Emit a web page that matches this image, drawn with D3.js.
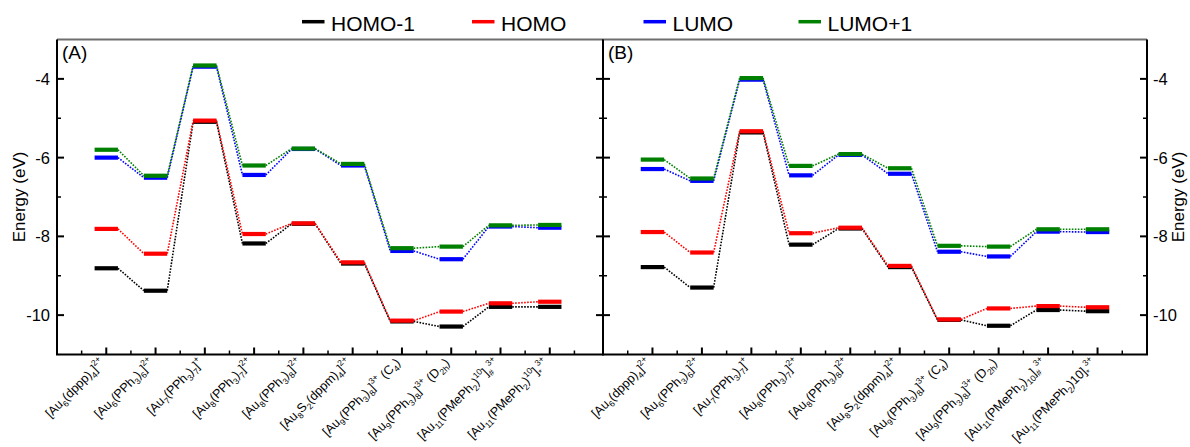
<!DOCTYPE html>
<html>
<head>
<meta charset="utf-8">
<script src="https://cdn.jsdelivr.net/npm/d3@7"></script>
<style>
  html, body { margin: 0; padding: 0; background: #fff; }
  svg { display: block; font-family: Arial, "Liberation Sans", sans-serif; }
  text { white-space: pre; }
</style>
</head>
<body>
<svg id="chart" width="1190" height="447"></svg>
<script>
// ---------- data ----------
const seriesNames = ["HOMO-1", "HOMO", "LUMO", "LUMO+1"];
const seriesColors = ["#000000", "#ff0000", "#0000ff", "#008000"];

const categoriesA = [
  "[Au_{6}(dppp)_{4}]^{2+}",
  "[Au_{6}(PPh_{3})_{6}]^{2+}",
  "[Au_{7}(PPh_{3})_{7}]^{+}",
  "[Au_{8}(PPh_{3})_{7}]^{2+}",
  "[Au_{8}(PPh_{3})_{8}]^{2+}",
  "[Au_{8}S_{2}(dppm)_{4}]^{2+}",
  "[Au_{9}(PPh_{3})_{8}]^{3+} (C_{4})",
  "[Au_{9}(PPh_{3})_{8}]^{3+} (D_{2h})",
  "[Au_{11}(PMePh_{2})^{10}]_{#}^{3+}",
  "[Au_{11}(PMePh_{2})^{10}]_{*}^{3+}"
];
const categoriesB = [
  "[Au_{6}(dppp)_{4}]^{2+}",
  "[Au_{6}(PPh_{3})_{6}]^{2+}",
  "[Au_{7}(PPh_{3})_{7}]^{+}",
  "[Au_{8}(PPh_{3})_{7}]^{2+}",
  "[Au_{8}(PPh_{3})_{8}]^{2+}",
  "[Au_{8}S_{2}(dppm)_{4}]^{2+}",
  "[Au_{9}(PPh_{3})_{8}]^{3+} (C_{4})",
  "[Au_{9}(PPh_{3})_{8}]^{3+} (D_{2h})",
  "[Au_{11}(PMePh_{2})_{10}]_{#}^{3+}",
  "[Au_{11}(PMePh_{2})10]_{*}^{3+}"
];

const homo1A = [-8.81, -9.38, -5.09, -8.18, -7.68, -8.69, -10.16, -10.29, -9.79, -9.79];
const homoA  = [-7.81, -8.44, -5.06, -7.94, -7.67, -8.66, -10.14, -9.91, -9.70, -9.66];
const lumoA  = [-6.00, -6.51, -3.69, -6.44, -5.78, -6.20, -8.37, -8.58, -7.75, -7.78];
const lumo1A = [-5.80, -6.46, -3.66, -6.20, -5.77, -6.16, -8.30, -8.26, -7.72, -7.71];

const homo1B = [-8.78, -9.30, -5.36, -8.21, -7.80, -8.78, -10.12, -10.27, -9.87, -9.90];
const homoB  = [-7.89, -8.41, -5.33, -7.92, -7.78, -8.75, -10.11, -9.83, -9.77, -9.80];
const lumoB  = [-6.29, -6.59, -4.02, -6.45, -5.93, -6.41, -8.39, -8.51, -7.88, -7.89];
const lumo1B = [-6.05, -6.53, -3.98, -6.21, -5.91, -6.27, -8.24, -8.26, -7.82, -7.82];

const yMajorTicks = [-4, -6, -8, -10];
const yMinorTicks = [-5, -7, -9];
const yTickLabels = ["-4", "-6", "-8", "-10"];
const panelLabels = ["(A)", "(B)"];
const yTitle = "Energy (eV)";

// ---------- layout ----------
const svg = d3.select("#chart");
const plotTop = 39.5, plotBottom = 354.5;
const y = d3.scaleLinear().domain([-11, -3]).range([plotBottom, plotTop]);
const panels = [
  { x: d3.scaleLinear().domain([0, 11.08]).range([57, 603]), cats: categoriesA,
    series: [homo1A, homoA, lumoA, lumo1A], label: panelLabels[0] },
  { x: d3.scaleLinear().domain([0, 11]).range([603, 1147]), cats: categoriesB,
    series: [homo1B, homoB, lumoB, lumo1B], label: panelLabels[1] }
];
const halfW = 0.237;

function richText(sel, str, fs) {
  const re = /([_^])\{([^}]*)\}|([^_^]+)/g;
  let m, cur = 0;
  while ((m = re.exec(str))) {
    let shift = 0, size = fs, txt;
    if (m[1]) { txt = m[2]; size = fs * 0.68; shift = m[1] === "_" ? fs * 0.28 : -fs * 0.45; }
    else txt = m[3];
    sel.append("tspan").attr("dy", shift - cur).attr("font-size", size).text(txt);
    cur = shift;
  }
}

panels.forEach((p, pi) => {
  const g = svg.append("g");
  const x = p.x;
  const [x0, x1] = x.range();
  const idx = d3.range(1, 11);

  // connectors (dotted) and levels
  p.series.forEach((vals, si) => {
    const col = seriesColors[si];
    const sg = g.append("g");
    const pts = idx.map((c, i) => ({ c, v: vals[i] }));
    sg.selectAll("line.conn").data(d3.pairs(pts)).join("line")
      .attr("class", "conn")
      .attr("x1", d => x(d[0].c + halfW)).attr("y1", d => y(d[0].v))
      .attr("x2", d => x(d[1].c - halfW)).attr("y2", d => y(d[1].v))
      .attr("stroke", col).attr("stroke-width", 1.6)
      .attr("stroke-dasharray", "1.6,1.4");
    sg.selectAll("line.lvl").data(pts).join("line")
      .attr("class", "lvl")
      .attr("x1", d => x(d.c - halfW)).attr("x2", d => x(d.c + halfW))
      .attr("y1", d => y(d.v)).attr("y2", d => y(d.v))
      .attr("stroke", col).attr("stroke-width", 4.2);
  });

  // bottom axis ticks (inward)
  g.selectAll("line.bmaj").data(idx).join("line")
    .attr("class", "bmaj")
    .attr("x1", d => x(d)).attr("x2", d => x(d))
    .attr("y1", plotBottom).attr("y2", plotBottom - 7)
    .attr("stroke", "#000").attr("stroke-width", 2);
  g.selectAll("line.bmin").data(d3.range(0.5, 11, 1)).join("line")
    .attr("class", "bmin")
    .attr("x1", d => x(d)).attr("x2", d => x(d))
    .attr("y1", plotBottom).attr("y2", plotBottom - 4)
    .attr("stroke", "#000").attr("stroke-width", 1.5);

  // vertical axes ticks (inward on both sides)
  [[x0, 1], [x1, -1]].forEach(([ax, dir]) => {
    const tg = g.append("g");
    tg.selectAll("line.ymaj").data(yMajorTicks).join("line")
      .attr("class", "ymaj")
      .attr("x1", ax).attr("x2", ax + dir * 7)
      .attr("y1", d => y(d)).attr("y2", d => y(d))
      .attr("stroke", "#000").attr("stroke-width", 2);
    tg.selectAll("line.ymin").data(yMinorTicks).join("line")
      .attr("class", "ymin")
      .attr("x1", ax).attr("x2", ax + dir * 4)
      .attr("y1", d => y(d)).attr("y2", d => y(d))
      .attr("stroke", "#000").attr("stroke-width", 1.5);
  });

  // frame
  g.append("line").attr("x1", x0).attr("x2", x1).attr("y1", plotTop).attr("y2", plotTop)
    .attr("stroke", "#6e6e6e").attr("stroke-width", 2);
  g.append("line").attr("x1", x0 - 1).attr("x2", x1 + 1).attr("y1", plotBottom).attr("y2", plotBottom)
    .attr("stroke", "#000").attr("stroke-width", 2);
  g.append("line").attr("x1", x0).attr("x2", x0).attr("y1", plotTop).attr("y2", plotBottom)
    .attr("stroke", "#000").attr("stroke-width", 2);
  g.append("line").attr("x1", x1).attr("x2", x1).attr("y1", plotTop).attr("y2", plotBottom)
    .attr("stroke", "#000").attr("stroke-width", 2);

  // category labels
  idx.forEach((c, i) => {
    const t = g.append("text")
      .attr("text-anchor", "end")
      .attr("font-size", 12.5)
      .attr("fill", "#000")
      .attr("transform", `translate(${x(c) - 1},${plotBottom + 9}) rotate(-45)`);
    richText(t, p.cats[i], 12.5);
  });

  // panel label
  g.append("text").attr("x", x0 + 5).attr("y", plotTop + 19)
    .attr("font-size", 19).text(p.label);
});

// y tick labels: left of panel A, right of panel B
const xl = panels[0].x.range()[0], xr = panels[1].x.range()[1];
svg.append("g").selectAll("text").data(yMajorTicks).join("text")
  .attr("x", xl - 7).attr("y", d => y(d)).attr("dy", "0.36em")
  .attr("text-anchor", "end").attr("font-size", 16.5)
  .text((d, i) => yTickLabels[i]);
svg.append("g").selectAll("text").data(yMajorTicks).join("text")
  .attr("x", xr + 6).attr("y", d => y(d)).attr("dy", "0.36em")
  .attr("text-anchor", "start").attr("font-size", 16.5)
  .text((d, i) => yTickLabels[i]);

// y titles
const yMid = (plotTop + plotBottom) / 2;
svg.append("text").attr("transform", `translate(25,${yMid}) rotate(-90)`)
  .attr("text-anchor", "middle").attr("font-size", 17).text(yTitle);
svg.append("text").attr("transform", `translate(1184,${yMid}) rotate(-90)`)
  .attr("text-anchor", "middle").attr("font-size", 17).text(yTitle);

// legend
const legendX = [302, 472, 643.5, 798.5];
const lg = svg.append("g");
seriesNames.forEach((n, i) => {
  lg.append("line").attr("x1", legendX[i]).attr("x2", legendX[i] + 22.5)
    .attr("y1", 21.7).attr("y2", 21.7)
    .attr("stroke", seriesColors[i]).attr("stroke-width", 3.5);
  lg.append("text").attr("x", legendX[i] + 29).attr("y", 30.5)
    .attr("font-size", 21).text(n);
});
</script>
</body>
</html>
